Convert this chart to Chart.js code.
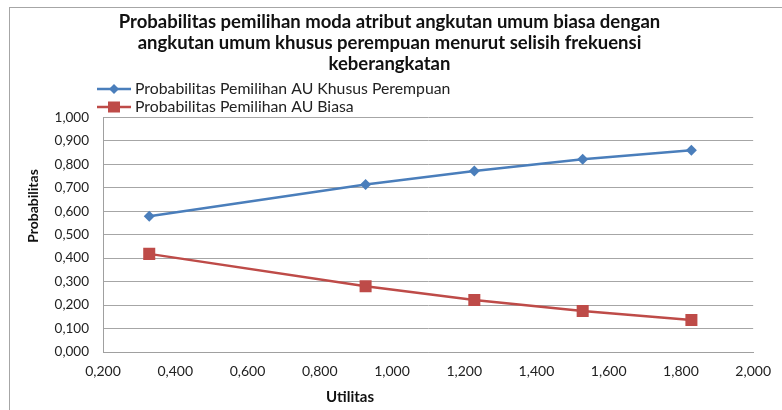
<!DOCTYPE html>
<html>
<head>
<meta charset="utf-8">
<script src="https://cdn.jsdelivr.net/npm/chart.js@4"></script>
<style>
  html, body { margin: 0; padding: 0; background: #fff; }
  #wrap { width: 782px; height: 410px; position: relative; }
</style>
</head>
<body>
<div id="wrap"><canvas id="probChart" width="782" height="410"></canvas></div>
<script>
// -----------------------------
// DATA
// -----------------------------
const utilitas = [0.328, 0.927, 1.228, 1.528, 1.829];
const probKhusus = [0.578, 0.714, 0.771, 0.821, 0.860];
const probBiasa = [0.418, 0.280, 0.222, 0.175, 0.136];

const titleLines = [
    'Probabilitas pemilihan moda atribut angkutan umum biasa dengan',
    'angkutan umum khusus perempuan menurut selisih frekuensi',
    'keberangkatan'
];
const seriesNames = [
    'Probabilitas Pemilihan AU Khusus Perempuan',
    'Probabilitas Pemilihan AU Biasa'
];
const xTitle = 'Utilitas';
const yTitle = 'Probabilitas';

const FONT = "Lato, 'Open Sans', sans-serif";
const fmt = v => v.toFixed(3).replace('.', ',');

// frame, two-row legend and axis titles placed like the source
const frameAndLegend = {
    id: 'frameAndLegend',
    beforeDraw(chart) {
        const ctx = chart.ctx;
        ctx.save();
        ctx.fillStyle = '#fff';
        ctx.fillRect(0, 0, chart.width, chart.height);
        ctx.strokeStyle = '#a6a6a6';
        ctx.lineWidth = 1;
        ctx.strokeRect(9.5, 7.5, 900, 500);
        ctx.restore();
    },
    afterDraw(chart) {
        const ctx = chart.ctx;
        ctx.save();
        chart.data.datasets.forEach((ds, i) => {
            const y = 89 + i * 18;
            ctx.strokeStyle = ds.borderColor;
            ctx.lineWidth = 2.5;
            ctx.beginPath();
            ctx.moveTo(97, y);
            ctx.lineTo(131, y);
            ctx.stroke();
            ctx.fillStyle = ds.backgroundColor;
            if (ds.pointStyle === 'rectRot') {
                ctx.beginPath();
                ctx.moveTo(114, y - 5);
                ctx.lineTo(119, y);
                ctx.lineTo(114, y + 5);
                ctx.lineTo(109, y);
                ctx.closePath();
                ctx.fill();
            } else {
                ctx.fillRect(108, y - 5.5, 12, 11);
            }
            ctx.fillStyle = '#222';
            ctx.font = '15.8px ' + FONT;
            ctx.textBaseline = 'middle';
            ctx.fillText(ds.label, 135, y);
        });

        ctx.fillStyle = '#111';
        ctx.font = 'bold 15px ' + FONT;
        ctx.textAlign = 'center';
        ctx.textBaseline = 'middle';
        ctx.fillText(xTitle, 350, 397);

        ctx.translate(33, 206);
        ctx.rotate(-Math.PI / 2);
        ctx.font = 'bold 14px ' + FONT;
        ctx.fillText(yTitle, 0, 0);
        ctx.restore();
    }
};

new Chart(document.getElementById('probChart'), {
    type: 'scatter',
    data: {
        datasets: [
            {
                label: seriesNames[0],
                data: utilitas.map((x, i) => ({ x, y: probKhusus[i] })),
                showLine: true,
                borderColor: '#4a7ebb',
                backgroundColor: '#4a7ebb',
                borderWidth: 2.5,
                pointStyle: 'rectRot',
                pointRadius: 5.5,
                pointBorderWidth: 0
            },
            {
                label: seriesNames[1],
                data: utilitas.map((x, i) => ({ x, y: probBiasa[i] })),
                showLine: true,
                borderColor: '#be4b48',
                backgroundColor: '#be4b48',
                borderWidth: 2.5,
                pointStyle: 'rect',
                pointRadius: 8.5,
                pointBorderWidth: 0
            }
        ]
    },
    options: {
        responsive: false,
        animation: false,
        layout: { padding: { left: 14, right: 17, top: 0, bottom: 0 } },
        plugins: {
            legend: { display: false },
            tooltip: { enabled: false },
            title: {
                display: true,
                text: titleLines,
                color: '#111',
                font: { family: FONT, size: 18.5, weight: 'bold', lineHeight: 1.14 },
                padding: { top: 11, bottom: 43 }
            }
        },
        scales: {
            x: {
                type: 'linear',
                min: 0.2,
                max: 2.0,
                ticks: {
                    stepSize: 0.2,
                    color: '#222',
                    font: { family: FONT, size: 14 },
                    padding: 11,
                    maxRotation: 0,
                    callback: v => fmt(v)
                },
                grid: { display: false, drawTicks: false },
                border: { color: '#a0a0a0' },
                afterFit: s => { s.height = 58; }
            },
            y: {
                min: 0,
                max: 1,
                ticks: {
                    stepSize: 0.1,
                    color: '#222',
                    font: { family: FONT, size: 13.5 },
                    padding: 14,
                    callback: v => fmt(v)
                },
                grid: { color: '#a6a6a6', drawTicks: false },
                border: { color: '#a0a0a0' },
                afterFit: s => { s.width = 89; }
            }
        }
    },
    plugins: [frameAndLegend]
});
</script>
</body>
</html>
